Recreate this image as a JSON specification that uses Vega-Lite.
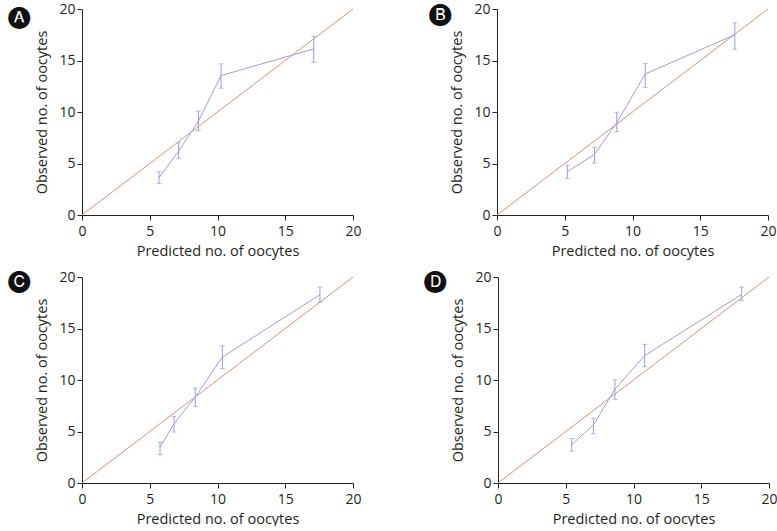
{
  "$schema": "https://vega.github.io/schema/vega-lite/v6.json",
  "padding": {"left": 8, "top": 2, "right": 0, "bottom": 0},
  "background": "white",
  "datasets": {
    "diag": [{"v": 0}, {"v": 20}],
    "pts": [
      {"panel": "A", "pred": 5.68, "obs": 3.62, "lo": 3.04, "hi": 4.2},
      {"panel": "A", "pred": 7.13, "obs": 6.2, "lo": 5.46, "hi": 7.01},
      {"panel": "A", "pred": 8.59, "obs": 9.11, "lo": 8.21, "hi": 10.08},
      {"panel": "A", "pred": 10.26, "obs": 13.54, "lo": 12.31, "hi": 14.67},
      {"panel": "A", "pred": 17.1, "obs": 16.12, "lo": 14.83, "hi": 17.35},
      {"panel": "B", "pred": 5.19, "obs": 4.21, "lo": 3.53, "hi": 4.82},
      {"panel": "B", "pred": 7.2, "obs": 5.89, "lo": 5.05, "hi": 6.57},
      {"panel": "B", "pred": 8.84, "obs": 8.96, "lo": 8.09, "hi": 9.97},
      {"panel": "B", "pred": 10.94, "obs": 13.69, "lo": 12.39, "hi": 14.72},
      {"panel": "B", "pred": 17.55, "obs": 17.5, "lo": 16.08, "hi": 18.67},
      {"panel": "C", "pred": 5.76, "obs": 3.46, "lo": 2.75, "hi": 3.95},
      {"panel": "C", "pred": 6.79, "obs": 5.76, "lo": 4.95, "hi": 6.47},
      {"panel": "C", "pred": 8.36, "obs": 8.35, "lo": 7.44, "hi": 9.22},
      {"panel": "C", "pred": 10.36, "obs": 12.23, "lo": 11.1, "hi": 13.33},
      {"panel": "C", "pred": 17.56, "obs": 18.28, "lo": 17.54, "hi": 19.03},
      {"panel": "D", "pred": 5.44, "obs": 3.74, "lo": 3.09, "hi": 4.33},
      {"panel": "D", "pred": 7.04, "obs": 5.63, "lo": 4.78, "hi": 6.28},
      {"panel": "D", "pred": 8.63, "obs": 9.11, "lo": 8.13, "hi": 10.02},
      {"panel": "D", "pred": 10.82, "obs": 12.36, "lo": 11.28, "hi": 13.46},
      {"panel": "D", "pred": 17.98, "obs": 18.31, "lo": 17.72, "hi": 19.02}
    ]
  },
  "vconcat": [
    {
      "hconcat": [
        {
          "width": 271, "height": 206,
          "title": {"text": "🅐", "offset": -26},
          "layer": [
            {"data": {"name": "diag"}, "mark": {"type": "line", "color": "#c9967a", "strokeWidth": 1},
             "encoding": {"x": {"field": "v", "type": "quantitative", "scale": {"domain": [0, 20]}, "axis": {"values": [0, 5, 10, 15, 20], "title": "Predicted no. of oocytes"}},
                          "y": {"field": "v", "type": "quantitative", "scale": {"domain": [0, 20]}, "axis": {"values": [0, 5, 10, 15, 20], "title": "Observed no. of oocytes"}}}},
            {"data": {"name": "pts"}, "transform": [{"filter": "datum.panel === 'A'"}], "mark": {"type": "line", "color": "#9d9dd6", "strokeWidth": 1},
             "encoding": {"x": {"field": "pred", "type": "quantitative"}, "y": {"field": "obs", "type": "quantitative"}}},
            {"data": {"name": "pts"}, "transform": [{"filter": "datum.panel === 'A'"}], "mark": {"type": "rule", "color": "#9d9dd6", "strokeWidth": 1},
             "encoding": {"x": {"field": "pred", "type": "quantitative"}, "y": {"field": "lo", "type": "quantitative"}, "y2": {"field": "hi"}}},
            {"data": {"name": "pts"}, "transform": [{"filter": "datum.panel === 'A'"}], "mark": {"type": "tick", "orient": "horizontal", "color": "#9d9dd6", "size": 5, "thickness": 1},
             "encoding": {"x": {"field": "pred", "type": "quantitative"}, "y": {"field": "lo", "type": "quantitative"}}},
            {"data": {"name": "pts"}, "transform": [{"filter": "datum.panel === 'A'"}], "mark": {"type": "tick", "orient": "horizontal", "color": "#9d9dd6", "size": 5, "thickness": 1},
             "encoding": {"x": {"field": "pred", "type": "quantitative"}, "y": {"field": "hi", "type": "quantitative"}}}
          ]
        },
        {
          "width": 271, "height": 206,
          "title": {"text": "🅑", "offset": -23, "dx": -68},
          "layer": [
            {"data": {"name": "diag"}, "mark": {"type": "line", "color": "#c9967a", "strokeWidth": 1},
             "encoding": {"x": {"field": "v", "type": "quantitative", "scale": {"domain": [0, 20]}, "axis": {"values": [0, 5, 10, 15, 20], "title": "Predicted no. of oocytes"}},
                          "y": {"field": "v", "type": "quantitative", "scale": {"domain": [0, 20]}, "axis": {"values": [0, 5, 10, 15, 20], "title": "Observed no. of oocytes"}}}},
            {"data": {"name": "pts"}, "transform": [{"filter": "datum.panel === 'B'"}], "mark": {"type": "line", "color": "#9d9dd6", "strokeWidth": 1},
             "encoding": {"x": {"field": "pred", "type": "quantitative"}, "y": {"field": "obs", "type": "quantitative"}}},
            {"data": {"name": "pts"}, "transform": [{"filter": "datum.panel === 'B'"}], "mark": {"type": "rule", "color": "#9d9dd6", "strokeWidth": 1},
             "encoding": {"x": {"field": "pred", "type": "quantitative"}, "y": {"field": "lo", "type": "quantitative"}, "y2": {"field": "hi"}}},
            {"data": {"name": "pts"}, "transform": [{"filter": "datum.panel === 'B'"}], "mark": {"type": "tick", "orient": "horizontal", "color": "#9d9dd6", "size": 5, "thickness": 1},
             "encoding": {"x": {"field": "pred", "type": "quantitative"}, "y": {"field": "lo", "type": "quantitative"}}},
            {"data": {"name": "pts"}, "transform": [{"filter": "datum.panel === 'B'"}], "mark": {"type": "tick", "orient": "horizontal", "color": "#9d9dd6", "size": 5, "thickness": 1},
             "encoding": {"x": {"field": "pred", "type": "quantitative"}, "y": {"field": "hi", "type": "quantitative"}}}
          ]
        }
      ],
      "spacing": 67
    },
    {
      "hconcat": [
        {
          "width": 271, "height": 206,
          "title": {"text": "🅒", "offset": -22},
          "layer": [
            {"data": {"name": "diag"}, "mark": {"type": "line", "color": "#c9967a", "strokeWidth": 1},
             "encoding": {"x": {"field": "v", "type": "quantitative", "scale": {"domain": [0, 20]}, "axis": {"values": [0, 5, 10, 15, 20], "title": "Predicted no. of oocytes"}},
                          "y": {"field": "v", "type": "quantitative", "scale": {"domain": [0, 20]}, "axis": {"values": [0, 5, 10, 15, 20], "title": "Observed no. of oocytes"}}}},
            {"data": {"name": "pts"}, "transform": [{"filter": "datum.panel === 'C'"}], "mark": {"type": "line", "color": "#9d9dd6", "strokeWidth": 1},
             "encoding": {"x": {"field": "pred", "type": "quantitative"}, "y": {"field": "obs", "type": "quantitative"}}},
            {"data": {"name": "pts"}, "transform": [{"filter": "datum.panel === 'C'"}], "mark": {"type": "rule", "color": "#9d9dd6", "strokeWidth": 1},
             "encoding": {"x": {"field": "pred", "type": "quantitative"}, "y": {"field": "lo", "type": "quantitative"}, "y2": {"field": "hi"}}},
            {"data": {"name": "pts"}, "transform": [{"filter": "datum.panel === 'C'"}], "mark": {"type": "tick", "orient": "horizontal", "color": "#9d9dd6", "size": 5, "thickness": 1},
             "encoding": {"x": {"field": "pred", "type": "quantitative"}, "y": {"field": "lo", "type": "quantitative"}}},
            {"data": {"name": "pts"}, "transform": [{"filter": "datum.panel === 'C'"}], "mark": {"type": "tick", "orient": "horizontal", "color": "#9d9dd6", "size": 5, "thickness": 1},
             "encoding": {"x": {"field": "pred", "type": "quantitative"}, "y": {"field": "hi", "type": "quantitative"}}}
          ]
        },
        {
          "width": 271, "height": 206,
          "title": {"text": "🅓", "offset": -22},
          "layer": [
            {"data": {"name": "diag"}, "mark": {"type": "line", "color": "#c9967a", "strokeWidth": 1},
             "encoding": {"x": {"field": "v", "type": "quantitative", "scale": {"domain": [0, 20]}, "axis": {"values": [0, 5, 10, 15, 20], "title": "Predicted no. of oocytes"}},
                          "y": {"field": "v", "type": "quantitative", "scale": {"domain": [0, 20]}, "axis": {"values": [0, 5, 10, 15, 20], "title": "Observed no. of oocytes"}}}},
            {"data": {"name": "pts"}, "transform": [{"filter": "datum.panel === 'D'"}], "mark": {"type": "line", "color": "#9d9dd6", "strokeWidth": 1},
             "encoding": {"x": {"field": "pred", "type": "quantitative"}, "y": {"field": "obs", "type": "quantitative"}}},
            {"data": {"name": "pts"}, "transform": [{"filter": "datum.panel === 'D'"}], "mark": {"type": "rule", "color": "#9d9dd6", "strokeWidth": 1},
             "encoding": {"x": {"field": "pred", "type": "quantitative"}, "y": {"field": "lo", "type": "quantitative"}, "y2": {"field": "hi"}}},
            {"data": {"name": "pts"}, "transform": [{"filter": "datum.panel === 'D'"}], "mark": {"type": "tick", "orient": "horizontal", "color": "#9d9dd6", "size": 5, "thickness": 1},
             "encoding": {"x": {"field": "pred", "type": "quantitative"}, "y": {"field": "lo", "type": "quantitative"}}},
            {"data": {"name": "pts"}, "transform": [{"filter": "datum.panel === 'D'"}], "mark": {"type": "tick", "orient": "horizontal", "color": "#9d9dd6", "size": 5, "thickness": 1},
             "encoding": {"x": {"field": "pred", "type": "quantitative"}, "y": {"field": "hi", "type": "quantitative"}}}
          ]
        }
      ],
      "spacing": 62
    }
  ],
  "spacing": 11,
  "config": {
    "view": {"stroke": null},
    "font": "Open Sans",
    "title": {"anchor": "start", "frame": "group", "dx": -74, "offset": -26, "fontSize": 22, "color": "#111111", "font": "DejaVu Sans", "fontWeight": "normal"},
    "axis": {
      "grid": false,
      "domainColor": "#222222",
      "tickColor": "#222222",
      "tickSize": 5,
      "labelFlush": false,
      "labelFont": "Open Sans",
      "labelFontSize": 14,
      "labelColor": "#231f20",
      "titleFont": "Open Sans",
      "titleFontSize": 14.5,
      "titleFontWeight": "normal",
      "titleColor": "#231f20"
    },
    "axisX": {"labelPadding": 4, "titlePadding": 6},
    "axisY": {"labelPadding": 2, "titlePadding": 9}
  }
}
